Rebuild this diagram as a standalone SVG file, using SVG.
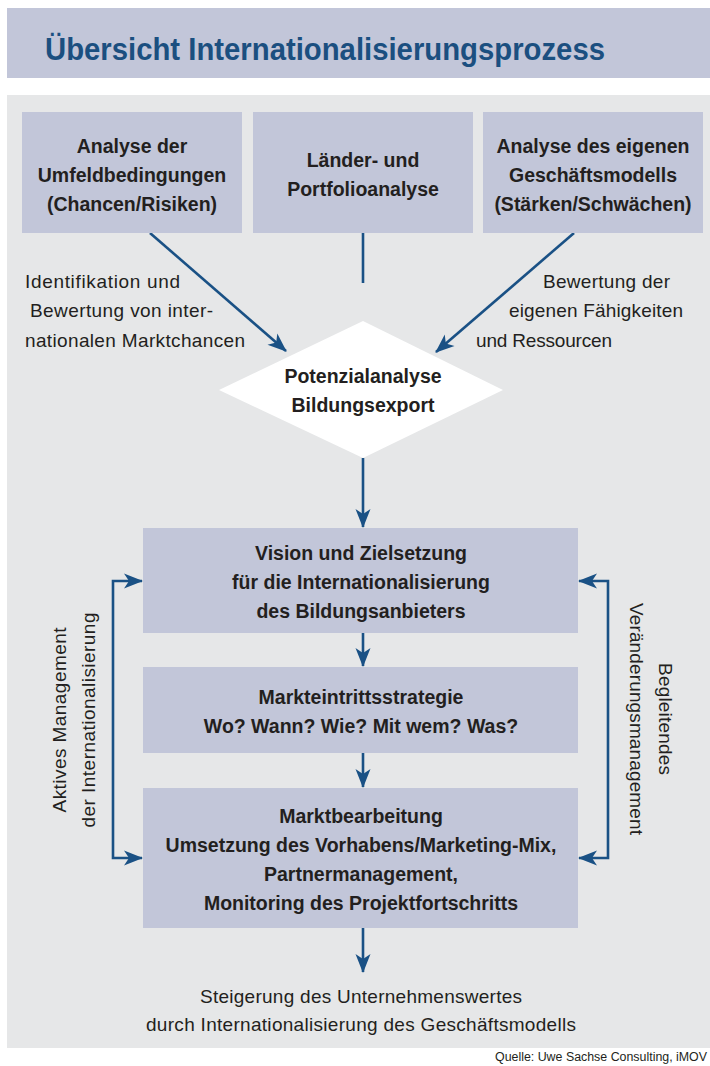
<svg xmlns="http://www.w3.org/2000/svg" width="710" height="1066" viewBox="0 0 710 1066">
  <defs>
    <style>
      .band { fill: #c2c6d9; }
      .panel { fill: #e6e7e8; }
      .box { fill: #c2c6d9; }
      .diamond { fill: #ffffff; }
      .title { font-family: "Liberation Sans", Arial, sans-serif; font-weight: bold; font-size: 31px; fill: #1b4f80; }
      .bold { font-family: "Liberation Sans", Arial, sans-serif; font-weight: bold; font-size: 19.5px; fill: #231f20; text-anchor: middle; }
      .label { font-family: "Liberation Sans", Arial, sans-serif; font-size: 19px; fill: #231f20; }
      .mid { text-anchor: middle; }
      .src { font-family: "Liberation Sans", Arial, sans-serif; font-size: 12.5px; fill: #231f20; text-anchor: end; }
      .conn { fill: none; stroke: #1a5185; stroke-width: 2.6; }
    </style>
    <marker id="arrow" markerUnits="userSpaceOnUse" markerWidth="22" markerHeight="18" viewBox="-19 -9 22 18" refX="0" refY="0" orient="auto-start-reverse">
      <path d="M1,0 L-18,-7.5 L-13,0 L-18,7.5 Z" fill="#1a5185"/>
    </marker>
  </defs>

  <!-- header band -->
  <rect class="band" x="7" y="8" width="703" height="70"/>
  <text class="title" x="45" y="60" textLength="560" lengthAdjust="spacingAndGlyphs">Übersicht Internationalisierungsprozess</text>

  <!-- grey panel -->
  <rect class="panel" x="7" y="95" width="703" height="953"/>

  <!-- connectors -->
  <g id="connectors">
    <line class="conn" x1="150" y1="233" x2="286" y2="351" marker-end="url(#arrow)"/>
    <line class="conn" x1="574" y1="233" x2="436" y2="352" marker-end="url(#arrow)"/>
    <line class="conn" x1="363" y1="233" x2="363" y2="283"/>
    <line class="conn" x1="363" y1="458" x2="363" y2="527" marker-end="url(#arrow)"/>
    <line class="conn" x1="363" y1="633" x2="363" y2="666" marker-end="url(#arrow)"/>
    <line class="conn" x1="363" y1="753" x2="363" y2="787" marker-end="url(#arrow)"/>
    <line class="conn" x1="363" y1="928" x2="363" y2="972" marker-end="url(#arrow)"/>
    <path class="conn" d="M142,581 H113 V858 H142" marker-start="url(#arrow)" marker-end="url(#arrow)"/>
    <path class="conn" d="M579,581 H608 V858 H579" marker-start="url(#arrow)" marker-end="url(#arrow)"/>
  </g>

  <!-- top row -->
  <g id="node-umfeld">
    <rect class="box" x="22" y="112" width="220" height="121"/>
    <text class="bold" x="132" y="153">Analyse der</text>
    <text class="bold" x="132" y="182">Umfeldbedingungen</text>
    <text class="bold" x="132" y="211">(Chancen/Risiken)</text>
  </g>
  <g id="node-laender">
    <rect class="box" x="253" y="112" width="220" height="121"/>
    <text class="bold" x="363" y="167">Länder- und</text>
    <text class="bold" x="363" y="196">Portfolioanalyse</text>
  </g>
  <g id="node-geschaeftsmodell">
    <rect class="box" x="483" y="112" width="220" height="121"/>
    <text class="bold" x="593" y="153">Analyse des eigenen</text>
    <text class="bold" x="593" y="182">Geschäftsmodells</text>
    <text class="bold" x="593" y="211">(Stärken/Schwächen)</text>
  </g>

  <!-- edge labels -->
  <g id="label-chancen">
    <text class="label" x="25" y="288" textLength="155">Identifikation und</text>
    <text class="label" x="30" y="317" textLength="183">Bewertung von inter-</text>
    <text class="label" x="25" y="347" textLength="220">nationalen Marktchancen</text>
  </g>
  <g id="label-faehigkeiten">
    <text class="label" x="543" y="288" textLength="127">Bewertung der</text>
    <text class="label" x="509" y="317" textLength="174">eigenen Fähigkeiten</text>
    <text class="label" x="476" y="347" textLength="136">und Ressourcen</text>
  </g>

  <!-- decision -->
  <g id="node-potenzial">
    <polygon class="diamond" points="363,321 503,390 363,458 219,390"/>
    <text class="bold" x="363" y="383">Potenzialanalyse</text>
    <text class="bold" x="363" y="412">Bildungsexport</text>
  </g>

  <!-- process column -->
  <g id="node-vision">
    <rect class="box" x="143" y="528" width="435" height="105"/>
    <text class="bold" x="361" y="560">Vision und Zielsetzung</text>
    <text class="bold" x="361" y="589">für die Internationalisierung</text>
    <text class="bold" x="361" y="618">des Bildungsanbieters</text>
  </g>
  <g id="node-markteintritt">
    <rect class="box" x="143" y="667" width="435" height="86"/>
    <text class="bold" x="361" y="704">Markteintrittsstrategie</text>
    <text class="bold" x="361" y="733">Wo? Wann? Wie? Mit wem? Was?</text>
  </g>
  <g id="node-marktbearbeitung">
    <rect class="box" x="143" y="788" width="435" height="140"/>
    <text class="bold" x="361" y="823">Marktbearbeitung</text>
    <text class="bold" x="361" y="852">Umsetzung des Vorhabens/Marketing-Mix,</text>
    <text class="bold" x="361" y="881">Partnermanagement,</text>
    <text class="bold" x="361" y="910">Monitoring des Projektfortschritts</text>
  </g>

  <!-- side labels -->
  <g id="label-aktiv">
    <text class="label mid" transform="translate(66,720) rotate(-90)" textLength="185">Aktives Management</text>
    <text class="label mid" transform="translate(95,720) rotate(-90)" textLength="215">der Internationalisierung</text>
  </g>
  <g id="label-begleitend">
    <text class="label mid" transform="translate(659,719) rotate(90)" textLength="112">Begleitendes</text>
    <text class="label mid" transform="translate(630,719) rotate(90)" textLength="232">Veränderungsmanagement</text>
  </g>

  <!-- outcome -->
  <g id="node-ergebnis">
    <text class="label mid" x="361" y="1003" textLength="322">Steigerung des Unternehmenswertes</text>
    <text class="label mid" x="361" y="1031" textLength="430">durch Internationalisierung des Geschäftsmodells</text>
  </g>

  <text class="src" x="707" y="1061" textLength="212" lengthAdjust="spacingAndGlyphs">Quelle: Uwe Sachse Consulting, iMOV</text>
</svg>
